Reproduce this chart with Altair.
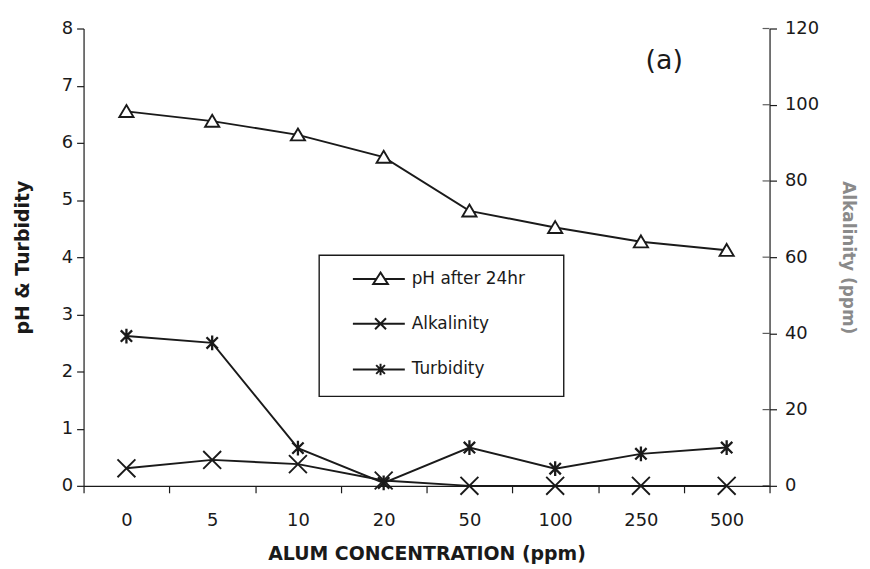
import altair as alt
import pandas as pd

# ---- data ----
concentrations = ["0", "5", "10", "20", "50", "100", "250", "500"]
ph_after_24hr = [6.55, 6.38, 6.14, 5.75, 4.81, 4.52, 4.27, 4.12]
turbidity = [2.62, 2.50, 0.66, 0.05, 0.67, 0.30, 0.56, 0.67]
alkalinity = [4.6, 6.8, 5.7, 1.4, 0.0, 0.0, 0.0, 0.0]
left_ticks = [0, 1, 2, 3, 4, 5, 6, 7, 8]
right_ticks = [0, 20, 40, 60, 80, 100, 120]
legend_labels = ["pH after 24hr", "Alkalinity", "Turbidity"]

df = pd.DataFrame({"conc": concentrations, "ph": ph_after_24hr,
                   "tur": turbidity, "alk": alkalinity})

W, H = 690, 460
FONT = "DejaVu Sans"
INK = "#1a1a1a"

TRI = "M0,-0.85L0.95,0.75L-0.95,0.75Z"
XMARK = "M-1,-1L1,1M-1,1L1,-1"
AST = "M-1,-1L1,1M-1,1L1,-1M0,-1.3L0,1.3"

# legend symbols: line with marker in the middle
LEG_TRI = "M0.9,0L3.05,0M3.81,0L5.65,0M3.43,-0.6L4.1,0.45L2.76,0.45Z"
LEG_X = "M0.9,0L5.65,0M2.93,-0.5L3.93,0.5M2.93,0.5L3.93,-0.5"
LEG_AST = "M0.9,0L5.65,0M3.03,-0.4L3.83,0.4M3.03,0.4L3.83,-0.4M3.43,-0.52L3.43,0.52"

x_enc = alt.X(
    "conc:N", sort=concentrations,
    scale=alt.Scale(type="band", paddingInner=0, paddingOuter=0),
    axis=alt.Axis(title="ALUM CONCENTRATION (ppm)", labelAngle=0, tickBand="extent",
                  tickSize=7, labelPadding=19, titlePadding=15, titleFontSize=19),
)

left_axis = alt.Axis(title="pH & Turbidity", values=left_ticks, tickSize=7,
                     labelPadding=4, titlePadding=29, titleFontSize=19)
right_axis = alt.Axis(title="Alkalinity (ppm)", orient="right", values=right_ticks,
                      tickSize=7, labelPadding=8, titlePadding=20, titleFontSize=17,
                      titleColor="#8a8a8a")
left_scale = alt.Scale(domain=[0, 8], nice=False)
right_scale = alt.Scale(domain=[0, 120], nice=False)

base = alt.Chart(df)


def y_left(field):
    return alt.Y(f"{field}:Q", scale=left_scale, axis=left_axis)


def y_right(field):
    return alt.Y(f"{field}:Q", scale=right_scale, axis=right_axis)


ph_line = base.mark_line(color=INK, strokeWidth=1.9).encode(x=x_enc, y=y_left("ph"))
ph_pts = base.mark_point(shape=TRI, size=225, filled=True, fill="white", stroke=INK,
                         strokeWidth=1.9, opacity=1).encode(x=x_enc, y=y_left("ph"))
tur_line = base.mark_line(color=INK, strokeWidth=1.9).encode(x=x_enc, y=y_left("tur"))
tur_pts = base.mark_point(shape=AST, size=130, stroke=INK, strokeWidth=2.3,
                          opacity=1).encode(x=x_enc, y=y_left("tur"))

alk_line = base.mark_line(color=INK, strokeWidth=1.9).encode(x=x_enc, y=y_right("alk"))
alk_pts = base.mark_point(shape=XMARK, size=324, stroke=INK, strokeWidth=1.9,
                          opacity=1).encode(x=x_enc, y=y_right("alk"))
rticks = alt.Chart(pd.DataFrame({"alk": right_ticks})).mark_tick(
    color=INK, size=7, thickness=1.2).encode(y=y_right("alk"), x=alt.value(W - 3.5))

# legend frame (decoration)
legend_box = alt.Chart(pd.DataFrame({"b": [0]})).mark_rect(
    fill="white", stroke=INK, strokeWidth=1.4
).encode(x=alt.value(237), x2=alt.value(483), y=alt.value(228), y2=alt.value(370))

legend_layer = alt.Chart(pd.DataFrame({"series": legend_labels})).mark_point(
    opacity=0, filled=False, color=INK, strokeWidth=2).encode(
    shape=alt.Shape(
        "series:N", sort=legend_labels,
        scale=alt.Scale(domain=legend_labels, range=[LEG_TRI, LEG_X, LEG_AST]),
        legend=alt.Legend(
            title=None, orient="none", legendX=237, legendY=228,
            padding=12, rowPadding=24,
            symbolSize=484, symbolStrokeWidth=2, symbolStrokeColor=INK,
            symbolOpacity=1,
            labelFont=FONT, labelFontSize=17, labelColor=INK,
            labelOffset=57, labelLimit=400,
        ),
    )
)

label_a = alt.Chart(pd.DataFrame({"t": ["(a)"]})).mark_text(
    font=FONT, fontSize=27, color=INK, align="center", baseline="middle"
).encode(text="t:N", x=alt.value(584), y=alt.value(33))

left = alt.layer(ph_line, ph_pts, tur_line, tur_pts)
right = alt.layer(alk_line, alk_pts, rticks)

chart = alt.layer(legend_box, left, right, legend_layer, label_a).resolve_scale(
    y="independent"
).properties(
    width=W, height=H,
    padding={"left": 5, "top": 10, "right": 5, "bottom": 0},
).configure_view(stroke=None).configure_axis(
    domainColor=INK, tickColor=INK, labelColor=INK, titleColor=INK,
    labelFont=FONT, titleFont=FONT, labelFontSize=18, titleFontWeight="bold",
    grid=False, domainWidth=1.2, tickWidth=1.2,
)

chart.save("out.html", embed_options={"renderer": "svg", "actions": False})
